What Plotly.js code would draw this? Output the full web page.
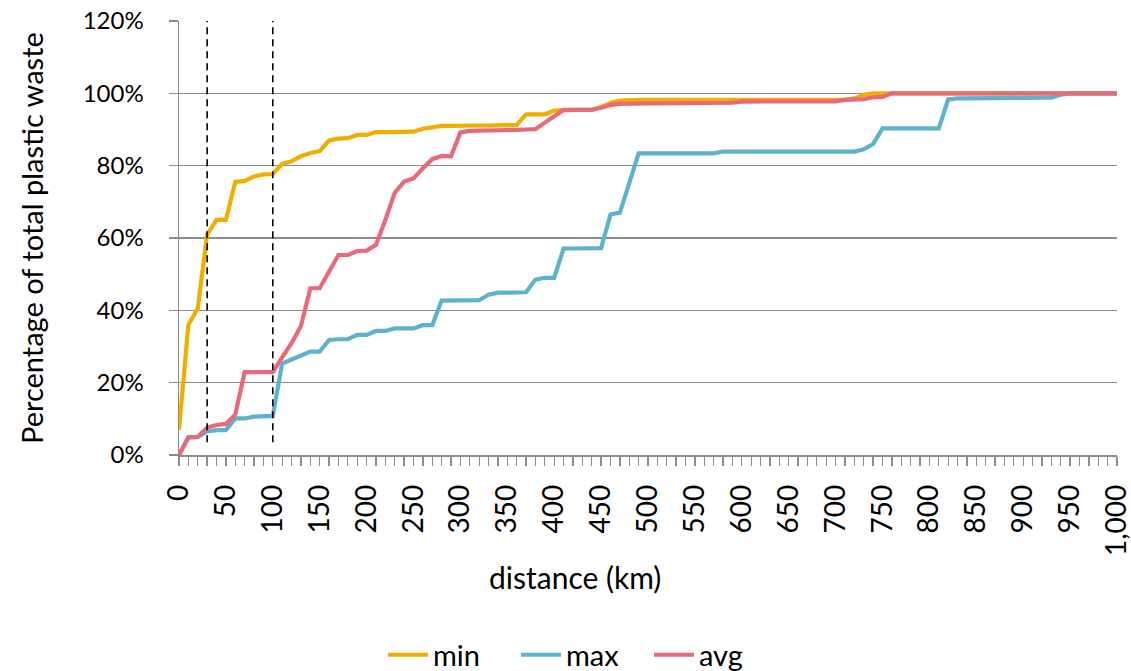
<!DOCTYPE html>
<html>
<head>
<meta charset="utf-8">
<script src="https://cdn.plot.ly/plotly-3.0.1.min.js"></script>
<style>html,body{margin:0;padding:0;background:#fff;}#chart{width:1131px;height:671px;}</style>
</head>
<body>
<div id="chart"></div>
<script>
// distance (km)
var distance = [0,10,20,30,40,50,60,70,80,90,100,110,120,130,140,150,160,170,180,190,200,
  210,220,230,240,250,260,270,280,290,300,310,320,330,340,350,360,370,380,390,400,
  410,420,430,440,450,460,470,480,490,500,510,520,530,540,550,560,570,580,590,600,
  610,620,630,640,650,660,670,680,690,700,710,720,730,740,750,760,770,780,790,800,
  810,820,830,840,850,860,870,880,890,900,910,920,930,940,950,960,970,980,990,1000];

// cumulative share of total plastic waste (%)
var minSeries = [7,36,40.5,61,65,65,75.5,75.8,77,77.6,77.7,80.5,81.2,82.6,83.5,84,87,87.5,87.6,88.5,88.5,
  89.3,89.3,89.3,89.3,89.4,90.2,90.5,91,91,91.1,91.1,91.1,91.1,91.1,91.2,91.3,94.2,94.2,94.2,95.2,
  95.4,95.4,95.4,95.5,96.2,97.4,98,98.2,98.2,98.2,98.2,98.2,98.2,98.2,98.2,98.2,98.2,98.2,98.2,98.2,
  98.2,98.2,98.2,98.2,98.2,98.2,98.2,98.2,98.2,98.2,98.2,98.6,99.6,100,100,100,100,100,100,100,
  100,100,100,100,100,100,100,100,100,100,100,100,100,100,100,100,100,100,100,100];

var maxSeries = [0,4.9,5,6.5,6.9,6.9,10.1,10.1,10.6,10.8,10.8,25.3,26.3,27.6,28.6,28.6,31.8,32,32,33.2,33.2,
  34.3,34.3,35,35,35,35.9,35.9,42.7,42.7,42.7,42.7,42.8,44.3,44.9,44.9,44.9,45,48.5,49,49,
  57.1,57.1,57.1,57.1,57.2,66.5,67,75.2,83.4,83.4,83.4,83.4,83.4,83.4,83.4,83.4,83.4,83.9,83.9,83.9,
  83.9,83.9,83.9,83.9,83.9,83.9,83.9,83.9,83.9,83.9,83.9,83.9,84.5,86,90.3,90.3,90.3,90.3,90.3,90.3,
  90.3,98.3,98.6,98.6,98.6,98.6,98.6,98.6,98.6,98.6,98.6,98.6,98.8,99.6,100,100,100,100,100,100];

var avgSeries = [0,4.9,5,7.6,8.3,8.6,11.2,22.9,22.9,22.9,22.9,27,30.9,35.7,46.1,46.1,50.7,55.3,55.3,56.4,56.5,
  58.1,65,72.5,75.6,76.5,79.3,81.8,82.7,82.6,89.2,89.6,89.7,89.7,89.7,89.8,89.9,90,90.1,91.9,93.7,
  95.4,95.4,95.4,95.4,96,96.8,97.1,97.2,97.2,97.2,97.2,97.2,97.2,97.2,97.2,97.2,97.2,97.2,97.4,97.7,
  97.8,97.8,97.8,97.8,97.8,97.8,97.8,97.8,97.8,97.8,98.2,98.3,98.4,98.9,99,100,100,100,100,100,
  100,100,100,100,100,100,100,100,100,100,100,100,100,100,100,100,100,100,100,100];

var seriesNames = ['min', 'max', 'avg'];
var seriesColors = ['#F2AE00', '#5DB3CD', '#E8697A'];

// reference distances marked with dashed lines (km)
var refDistances = [30, 100];
var refSpan = [0.035, 1.2];

var yTickVals = [0, 0.2, 0.4, 0.6, 0.8, 1.0, 1.2];

var FONT = 'Lato, "Open Sans", sans-serif';

function frac(a) { return a.map(function (v) { return v / 100; }); }

var data = [];
[minSeries, maxSeries, avgSeries].forEach(function (s, i) {
  data.push({
    type: 'scatter', mode: 'lines', name: seriesNames[i],
    x: distance, y: frac(s),
    line: { color: seriesColors[i], width: 4.2, shape: 'linear' },
    hoverinfo: 'x+y+name'
  });
});
refDistances.forEach(function (d) {
  data.push({
    type: 'scatter', mode: 'lines', showlegend: false, hoverinfo: 'skip',
    x: [d, d], y: refSpan,
    line: { color: '#000000', width: 1.6, dash: '7px,5px' }
  });
});

var layout = {
  width: 1131, height: 671,
  margin: { l: 179, r: 14, t: 21, b: 216, autoexpand: false },
  paper_bgcolor: '#ffffff', plot_bgcolor: '#ffffff',
  font: { family: FONT, color: '#000000', size: 22 },
  showlegend: true,
  legend: {
    orientation: 'h', xref: 'container', yref: 'container',
    x: 0.515, xanchor: 'center', y: 0.024, yanchor: 'middle',
    font: { family: FONT, size: 29, color: '#000' }, traceorder: 'normal',
    itemwidth: 40, entrywidth: 78, entrywidthmode: 'pixels'
  },
  xaxis: {
    range: [0, 1000], tick0: 0, dtick: 50, tickformat: ',d', tickangle: -90,
    showgrid: false, zeroline: false,
    showline: true, linecolor: '#8c8c8c', linewidth: 1.5,
    ticks: 'outside', ticklen: 9, tickwidth: 1.3, tickcolor: '#8c8c8c',
    minor: { dtick: 10, ticks: 'outside', ticklen: 9, tickwidth: 1.3, tickcolor: '#8c8c8c', showgrid: false },
    tickfont: { family: FONT, size: 28, color: '#000' },
    ticklabelstandoff: 8,
    ticklabeloverflow: 'allow',
    automargin: false,
    fixedrange: true
  },
  yaxis: {
    range: [0, 1.2], tickvals: yTickVals, tickformat: '.0%',
    showgrid: true, gridcolor: '#8c8c8c', gridwidth: 1.5,
    zeroline: false, showline: true, linecolor: '#8c8c8c', linewidth: 1.5,
    ticks: 'outside', ticklen: 9, tickwidth: 1.3, tickcolor: '#8c8c8c',
    tickfont: { family: FONT, size: 24, color: '#000' },
    ticklabelstandoff: 20,
    automargin: false,
    fixedrange: true
  },
  annotations: [
    { text: 'distance (km)', xref: 'paper', yref: 'paper', x: 0.422, y: -0.281,
      xanchor: 'center', yanchor: 'middle', showarrow: false,
      font: { family: FONT, size: 30, color: '#000' } },
    { text: 'Percentage of total plastic waste', xref: 'paper', yref: 'paper', x: -0.1578, y: 0.5,
      xanchor: 'center', yanchor: 'middle', textangle: -90, showarrow: false,
      font: { family: FONT, size: 29, color: '#000' } }
  ]
};

Plotly.newPlot('chart', data, layout, { displayModeBar: false, staticPlot: true });
</script>
</body>
</html>
